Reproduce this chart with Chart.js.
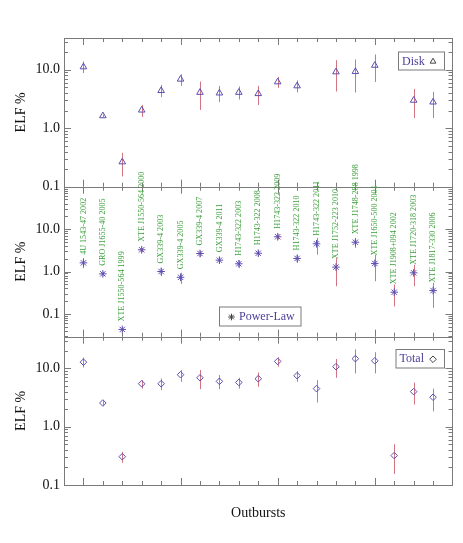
<!DOCTYPE html>
<html>
<head>
<meta charset="utf-8">
<script src="https://cdn.jsdelivr.net/npm/chart.js@4.4.1/dist/chart.umd.min.js"></script>
<style>
    html, body { margin: 0; padding: 0; background: #fff; }
    #wrap { position: relative; width: 463px; height: 543px; }
    #wrap canvas { position: absolute; left: 0; top: 0; }
</style>
</head>
<body>
<div id="wrap">
    <canvas id="disk" width="463" height="543"></canvas>
    <canvas id="powerlaw" width="463" height="543"></canvas>
    <canvas id="total" width="463" height="543"></canvas>
</div>
<script>
// Outburst names (x positions 1..19)
const outbursts = [
    "4U 1543-47 2002", "GRO J1655-40 2005", "XTE J1550-564 1999", "XTE J1550-564 2000",
    "GX339-4 2003", "GX339-4 2005", "GX339-4 2007", "GX339-4 2011",
    "H1743-322 2003", "H1743-322 2008", "H1743-322 2009", "H1743-322 2010", "H1743-322 2011",
    "XTE J1752-223 2010", "XTE J1748-288 1998", "XTE J1650-500 2001",
    "XTE J1908+094 2002", "XTE J1720-318 2003", "XTE J1817-330 2006"
];

// Disk ELF % (null = no disk measurement)
const diskElf = [11.2, 1.63, 0.265, 2.04, 4.4, 6.9, 4.1, 4.0, 4.1, 3.9, 6.2, 5.3, null, 9.2, 9.3, 11.9, null, 3.0, 2.8];
const diskLo  = [8.8, 1.55, 0.15, 1.56, 3.4, 5.3, 2.06, 2.8, 3.1, 2.5, 4.9, 4.1, null, 4.25, 4.1, 6.2, null, 1.5, 1.5];
const diskHi  = [13.9, 1.72, 0.38, 2.5, 5.5, 8.4, 6.3, 5.3, 5.2, 5.3, 7.6, 6.6, null, 14.6, 15.0, 18.3, null, 4.7, 4.2];

// Power-law ELF %
const plElf = [1.6, 0.88, 0.043, 3.25, 1.0, 0.73, 2.66, 1.85, 1.52, 2.7, 6.6, 2.03, 4.5, 1.27, 4.9, 1.55, 0.325, 0.93, 0.355];
const plLo  = [1.2, 0.8, 0.039, 2.9, 0.78, 0.51, 2.2, 1.55, 1.22, 2.3, 5.7, 1.6, 2.5, 0.45, 3.6, 0.59, 0.15, 0.45, 0.14];
const plHi  = [2.07, 0.97, 0.048, 3.6, 1.22, 0.93, 3.1, 2.2, 1.85, 3.2, 7.5, 2.5, 6.2, 2.07, 6.2, 2.5, 0.49, 1.44, 0.54];

// Total ELF %
const totalElf = [12.8, 2.55, 0.306, 5.46, 5.46, 7.8, 6.9, 6.0, 5.75, 6.65, 13.2, 7.5, 4.5, 10.7, 14.7, 13.5, 0.32, 4.0, 3.2];
const totalLo  = [10.4, 2.35, 0.24, 4.5, 4.25, 5.9, 4.4, 4.4, 4.5, 4.85, 10.7, 5.9, 2.6, 6.9, 8.2, 8.2, 0.155, 2.4, 1.83];
const totalHi  = [15.4, 2.75, 0.37, 6.3, 6.7, 9.4, 9.4, 7.7, 6.9, 8.5, 15.6, 9.0, 6.3, 14.5, 21.2, 19.0, 0.5, 5.7, 4.5];

// Axis tick labels and ranges
const yTickValues = [0.1, 1, 10];
const diskRange = [0.1, 35];
const plRange = [0.029, 100];
const totalRange = [0.1, 35];
const xRange = [0, 20];

const FONT = '"Liberation Serif", "Times New Roman", serif';
const markerColor = "#5a4fb0";
const errColor = "#d27583";
const frameColor = "#7a7a7a";
const labelColor = "#3a9e3a";
const legendTextColor = "#4a3e98";

function drawMarker(ctx, style, x, y, r) {
    ctx.beginPath();
    if (style === "triangle") {
        for (let k = 0; k < 3; k++) {
            const a = k * 2 * Math.PI / 3;
            const px = x + Math.sin(a) * r, py = y - Math.cos(a) * r;
            k === 0 ? ctx.moveTo(px, py) : ctx.lineTo(px, py);
        }
        ctx.closePath();
    } else if (style === "rectRot") {
        ctx.moveTo(x, y - r); ctx.lineTo(x + r, y); ctx.lineTo(x, y + r); ctx.lineTo(x - r, y);
        ctx.closePath();
    } else {
        for (let k = 0; k < 4; k++) {
            const a = k * Math.PI / 4;
            ctx.moveTo(x - Math.cos(a) * r, y - Math.sin(a) * r);
            ctx.lineTo(x + Math.cos(a) * r, y + Math.sin(a) * r);
        }
    }
    ctx.stroke();
}

const panelPlugin = {
    id: "panel",
    beforeDatasetsDraw(chart, args, opts) {
        const ctx = chart.ctx, xs = chart.scales.x, ys = chart.scales.y;
        ctx.save();
        ctx.strokeStyle = errColor;
        ctx.lineWidth = 1;
        opts.lo.forEach((lo, i) => {
            if (lo == null) return;
            const px = Math.round(xs.getPixelForValue(i + 1)) + 0.5;
            ctx.beginPath();
            ctx.moveTo(px, ys.getPixelForValue(lo));
            ctx.lineTo(px, ys.getPixelForValue(opts.hi[i]));
            ctx.stroke();
        });
        ctx.restore();
    },
    afterDraw(chart, args, opts) {
        const ctx = chart.ctx, xs = chart.scales.x, ys = chart.scales.y;
        const a = chart.chartArea;
        ctx.save();
        ctx.strokeStyle = frameColor;
        ctx.lineWidth = 1;
        ctx.strokeRect(Math.round(a.left) + 0.5, Math.round(a.top) + 0.5,
            Math.round(a.right - a.left) - 1, Math.round(a.bottom - a.top));

        // x ticks, inward on top and bottom
        ctx.beginPath();
        for (let i = 1; i <= outbursts.length; i++) {
            const px = Math.round(xs.getPixelForValue(i)) + 0.5;
            const len = (i - 1) % 5 === 0 ? 7 : 4;
            ctx.moveTo(px, a.bottom); ctx.lineTo(px, a.bottom - len);
            ctx.moveTo(px, a.top); ctx.lineTo(px, a.top + len);
        }
        // y ticks, inward on left and right
        const lo = Math.floor(Math.log10(ys.min)), hi = Math.ceil(Math.log10(ys.max));
        for (let n = lo; n <= hi; n++) {
            for (let k = 1; k <= 9; k++) {
                const v = k * Math.pow(10, n);
                if (v < ys.min || v > ys.max) continue;
                const py = Math.round(ys.getPixelForValue(v)) + 0.5;
                const len = k === 1 ? 7 : 4;
                ctx.moveTo(a.left, py); ctx.lineTo(a.left + len, py);
                ctx.moveTo(a.right, py); ctx.lineTo(a.right - len, py);
            }
        }
        ctx.stroke();

        // outburst names above the power-law points
        if (opts.names) {
            ctx.fillStyle = labelColor;
            ctx.font = "8.1px " + FONT;
            ctx.textAlign = "left";
            ctx.textBaseline = "middle";
            outbursts.forEach((name, i) => {
                ctx.save();
                ctx.translate(xs.getPixelForValue(i + 1), ys.getPixelForValue(opts.values[i]) - 8);
                ctx.rotate(-Math.PI / 2);
                ctx.fillText(name, 0, 0);
                ctx.restore();
            });
        }

        // legend box
        const lg = opts.legend;
        const [l, t, r, b] = lg.box;
        ctx.strokeStyle = frameColor;
        ctx.strokeRect(l + 0.5, t + 0.5, r - l, b - t);
        const cy = (t + b) / 2 + 1;
        ctx.font = "12px " + FONT;
        ctx.fillStyle = legendTextColor;
        ctx.textAlign = "left";
        ctx.textBaseline = "middle";
        ctx.strokeStyle = "#444";
        if (lg.markerFirst) {
            drawMarker(ctx, lg.style, l + 12.5, cy, 3.3);
            ctx.fillText(lg.text, l + 20, cy);
        } else {
            ctx.fillText(lg.text, l + 4, cy);
            drawMarker(ctx, lg.style, r - 11, cy, 3.3);
        }
        ctx.restore();
    }
};

function makePanel(id, cfg) {
    const points = cfg.values.map((v, i) => ({ x: i + 1, y: v }));
    return new Chart(document.getElementById(id), {
        type: "scatter",
        data: {
            datasets: [{
                data: points,
                pointStyle: cfg.style,
                pointRadius: cfg.radius,
                pointBorderWidth: 1,
                borderColor: markerColor,
                backgroundColor: "rgba(0,0,0,0)",
                showLine: false
            }]
        },
        options: {
            responsive: false,
            animation: false,
            devicePixelRatio: 1,
            layout: { padding: { top: cfg.top, bottom: cfg.bottom, left: 0, right: 10.5 } },
            plugins: {
                legend: { display: false },
                tooltip: { enabled: false },
                panel: {
                    lo: cfg.lo, hi: cfg.hi, values: cfg.values,
                    names: cfg.names || false, legend: cfg.legend
                }
            },
            scales: {
                x: {
                    type: "linear",
                    min: xRange[0], max: xRange[1],
                    display: !!cfg.showX,
                    grid: { display: false, drawTicks: false },
                    border: { display: false },
                    ticks: { display: false },
                    title: {
                        display: true, text: "Outbursts", color: "#111",
                        font: { family: FONT, size: 14 },
                        padding: { top: 0, bottom: 21.6 }
                    },
                    afterFit: s => { s.height = cfg.showX ? 58 : 0; }
                },
                y: {
                    type: "logarithmic",
                    min: cfg.range[0], max: cfg.range[1],
                    grid: { display: false, drawTicks: false },
                    border: { display: false },
                    afterBuildTicks: s => { s.ticks = yTickValues.map(v => ({ value: v })); },
                    ticks: {
                        padding: 4,
                        color: "#111",
                        font: { family: FONT, size: 14 },
                        callback: v => v.toFixed(1)
                    },
                    title: {
                        display: true, text: "ELF %", color: "#111",
                        font: { family: FONT, size: 14 },
                        padding: { top: 12.6, bottom: 0 }
                    },
                    afterFit: s => { s.width = 64; }
                }
            }
        },
        plugins: [panelPlugin]
    });
}

makePanel("disk", {
    values: diskElf, lo: diskLo, hi: diskHi, style: "triangle", radius: 3.8,
    range: diskRange, top: 38, bottom: 543 - 186.7,
    legend: { text: "Disk", style: "triangle", box: [398, 51.5, 444, 69.5], markerFirst: false }
});
makePanel("powerlaw", {
    values: plElf, lo: plLo, hi: plHi, style: "star", radius: 3.8,
    range: plRange, top: 186.7, bottom: 543 - 336.7, names: true,
    legend: { text: "Power-Law", style: "star", box: [219, 306.5, 300.5, 325.5], markerFirst: true }
});
makePanel("total", {
    values: totalElf, lo: totalLo, hi: totalHi, style: "rectRot", radius: 3.3,
    range: totalRange, top: 336.7, bottom: 0, showX: true,
    legend: { text: "Total", style: "rectRot", box: [395.5, 349, 444, 367.5], markerFirst: false }
});
</script>
</body>
</html>
